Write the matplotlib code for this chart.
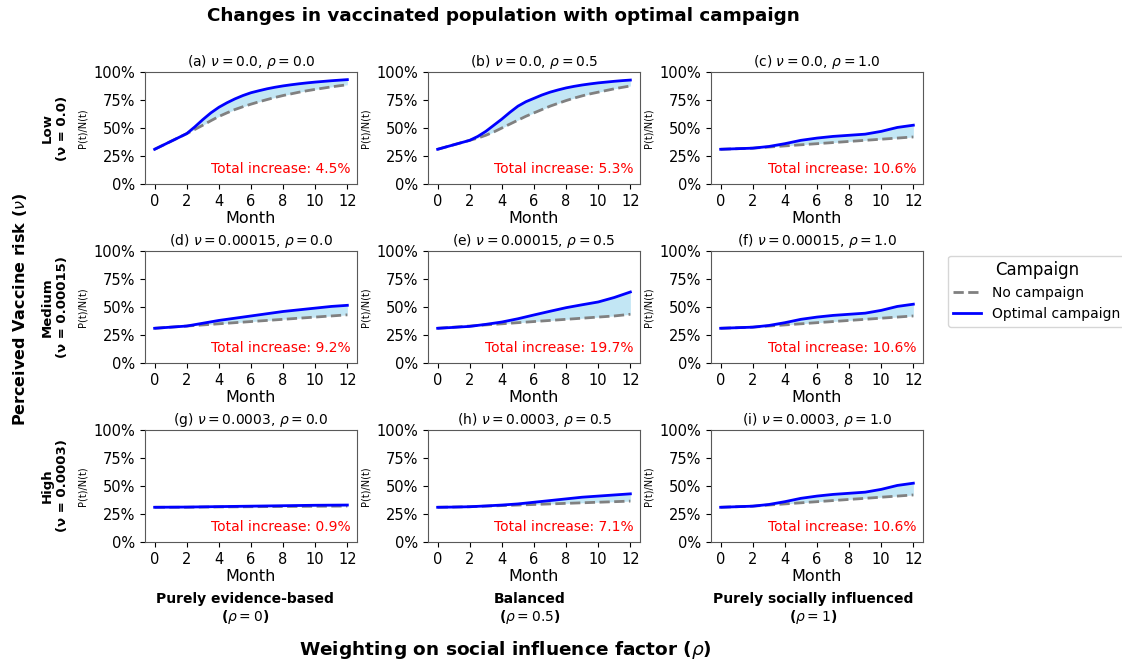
import matplotlib
matplotlib.use("Agg")
import matplotlib.pyplot as plt
import numpy as np
from matplotlib.ticker import PercentFormatter

months = [0, 1, 2, 3, 4, 5, 6, 7, 8, 9, 10, 11, 12]
half_months = [0, 0.5, 1, 1.5, 2, 2.5, 3, 3.5, 4, 4.5, 5, 5.5, 6, 6.5, 7, 7.5, 8, 8.5,
               9, 9.5, 10, 10.5, 11, 11.5, 12]

no_a = [31, 34.5, 38, 41.5, 45, 48.7, 52.5, 56.5, 60.3, 63.5, 66.5, 69, 71.3, 73.4, 75.4,
        77.3, 79, 80.5, 82, 83.3, 84.5, 85.6, 86.7, 87.7, 88.6]
opt_a = [31, 34.5, 38, 41.5, 45, 51, 57.5, 63.5, 68.5, 72.5, 76, 79, 81.5, 83.3, 85,
         86.4, 87.6, 88.6, 89.5, 90.3, 91, 91.6, 92.2, 92.7, 93.2]
no_b = [31, 33, 35, 37, 39, 41, 43.5, 46.5, 50, 53.5, 57, 60.5, 63.5, 66.5, 69.5,
        72, 74.5, 76.7, 78.7, 80.5, 82, 83.5, 85, 86.3, 87.5]
opt_b = [31, 33, 35, 37, 39, 42.5, 47, 52.5, 58, 64, 69.5, 73.5, 76.5, 79.5, 82,
         84, 85.8, 87.2, 88.4, 89.4, 90.3, 91, 91.7, 92.3, 92.8]
no_c = [31, 31.5, 32, 33, 34, 35, 36, 37, 38, 39, 40, 41, 42]
opt_c = [31, 31.5, 32, 33.5, 36, 39, 41, 42.5, 43.5, 44.5, 47, 50.5, 52.5]
no_d = [31, 32, 33, 34, 35, 36, 37, 38, 39, 40, 41, 42, 43]
opt_d = [31, 32, 33, 35.5, 38, 40, 42, 44, 46, 47.5, 49, 50.5, 51.5]
no_e = [31, 32, 33, 34, 35, 36, 37, 38, 39, 40, 41, 42, 43.5]
opt_e = [31, 31.8, 32.7, 34.5, 36.6, 39.5, 42.9, 46.2, 49.4, 52, 54.5, 58.5, 63.4]
no_g = [31, 31, 31, 31.2, 31.3, 31.4, 31.5, 31.6, 31.7, 31.8, 31.9, 32, 32.1]
opt_g = [31, 31.1, 31.2, 31.4, 31.6, 31.8, 32, 32.2, 32.4, 32.6, 32.8, 32.9, 33]
no_h = [31, 31.2, 31.5, 32, 32.5, 33, 33.5, 34, 34.5, 35, 35.5, 36, 36.5]
opt_h = [31, 31.2, 31.5, 32.2, 33, 34, 35.5, 37, 38.5, 40, 41, 42, 43]

series = [
    [(half_months, no_a, opt_a), (half_months, no_b, opt_b), (months, no_c, opt_c)],
    [(months, no_d, opt_d), (months, no_e, opt_e), (months, no_c, opt_c)],
    [(months, no_g, opt_g), (months, no_h, opt_h), (months, no_c, opt_c)],
]
increases = [["4.5%", "5.3%", "10.6%"], ["9.2%", "19.7%", "10.6%"], ["0.9%", "7.1%", "10.6%"]]
nu_vals = ["0.0", "0.00015", "0.0003"]
rho_vals = ["0.0", "0.5", "1.0"]
letters = [["a", "b", "c"], ["d", "e", "f"], ["g", "h", "i"]]
row_names = ["Low", "Medium", "High"]
col_names = ["Purely evidence-based\n($\\rho = 0$)", "Balanced\n($\\rho = 0.5$)",
             "Purely socially influenced\n($\\rho = 1$)"]

fig = plt.figure(figsize=(11.22, 6.64), dpi=100)
W, H = 1122, 664
lefts = [145, 428, 711]
tops = [72, 251, 430]
aw, ah = 212, 112

for r in range(3):
    for c in range(3):
        ax = fig.add_axes([lefts[c] / W, 1 - (tops[r] + ah) / H, aw / W, ah / H])
        t, no, opt = series[r][c]
        l1, = ax.plot(t, np.array(no) / 100, color="gray", ls="--", lw=2, label="No campaign")
        l2, = ax.plot(t, np.array(opt) / 100, color="blue", lw=2, label="Optimal campaign")
        ax.fill_between(t, np.array(no) / 100, np.array(opt) / 100, color="skyblue", alpha=0.5, lw=0)
        ax.set_ylim(0, 1)
        ax.set_yticks([0, 0.25, 0.5, 0.75, 1.0])
        ax.yaxis.set_major_formatter(PercentFormatter(1.0, decimals=0))
        ax.set_xticks([0, 2, 4, 6, 8, 10, 12])
        ax.tick_params(labelsize=10.5)
        ax.set_xlabel("Month", fontsize=11.5, labelpad=1.5)
        ax.set_ylabel("P(t)/N(t)", fontsize=7)
        ax.set_title(f"({letters[r][c]}) $\\nu = {nu_vals[r]}$, $\\rho = {rho_vals[c]}$",
                     fontsize=10, pad=4)
        ax.text(0.97, 0.13, f"Total increase: {increases[r][c]}", color="red", fontsize=10,
                ha="right", va="center", transform=ax.transAxes)
        for s in ax.spines.values():
            s.set_color("0.35")

fig.text(503 / W, 1 - 16 / H, "Changes in vaccinated population with optimal campaign",
         fontsize=13.2, fontweight="bold", ha="center", va="center")

for r in range(3):
    yc = 1 - (tops[r] + ah / 2) / H
    fig.text(55 / W, yc, f"{row_names[r]}\n(ν = {nu_vals[r]})", rotation=90, fontsize=9.5,
             fontweight="bold", ha="center", va="center", multialignment="center")

fig.text(20 / W, 1 - 309 / H, "Perceived Vaccine risk ($\\nu$)", rotation=90, fontsize=11.5,
         fontweight="bold", ha="center", va="center")

col_x = [245, 530, 813]
for c in range(3):
    fig.text(col_x[c] / W, 1 - 609 / H, col_names[c], fontsize=10, fontweight="bold",
             ha="center", va="center", multialignment="center")

fig.text(505 / W, 1 - 650 / H, "Weighting on social influence factor ($\\rho$)", fontsize=13.3,
         fontweight="bold", ha="center", va="center")

fig.legend(handles=[l1, l2], title="Campaign", loc="center left",
           bbox_to_anchor=(941 / W, 1 - 291 / H), fontsize=10, title_fontsize=12,
           frameon=True, handlelength=2.0)

fig.savefig("out.png", dpi=100)
